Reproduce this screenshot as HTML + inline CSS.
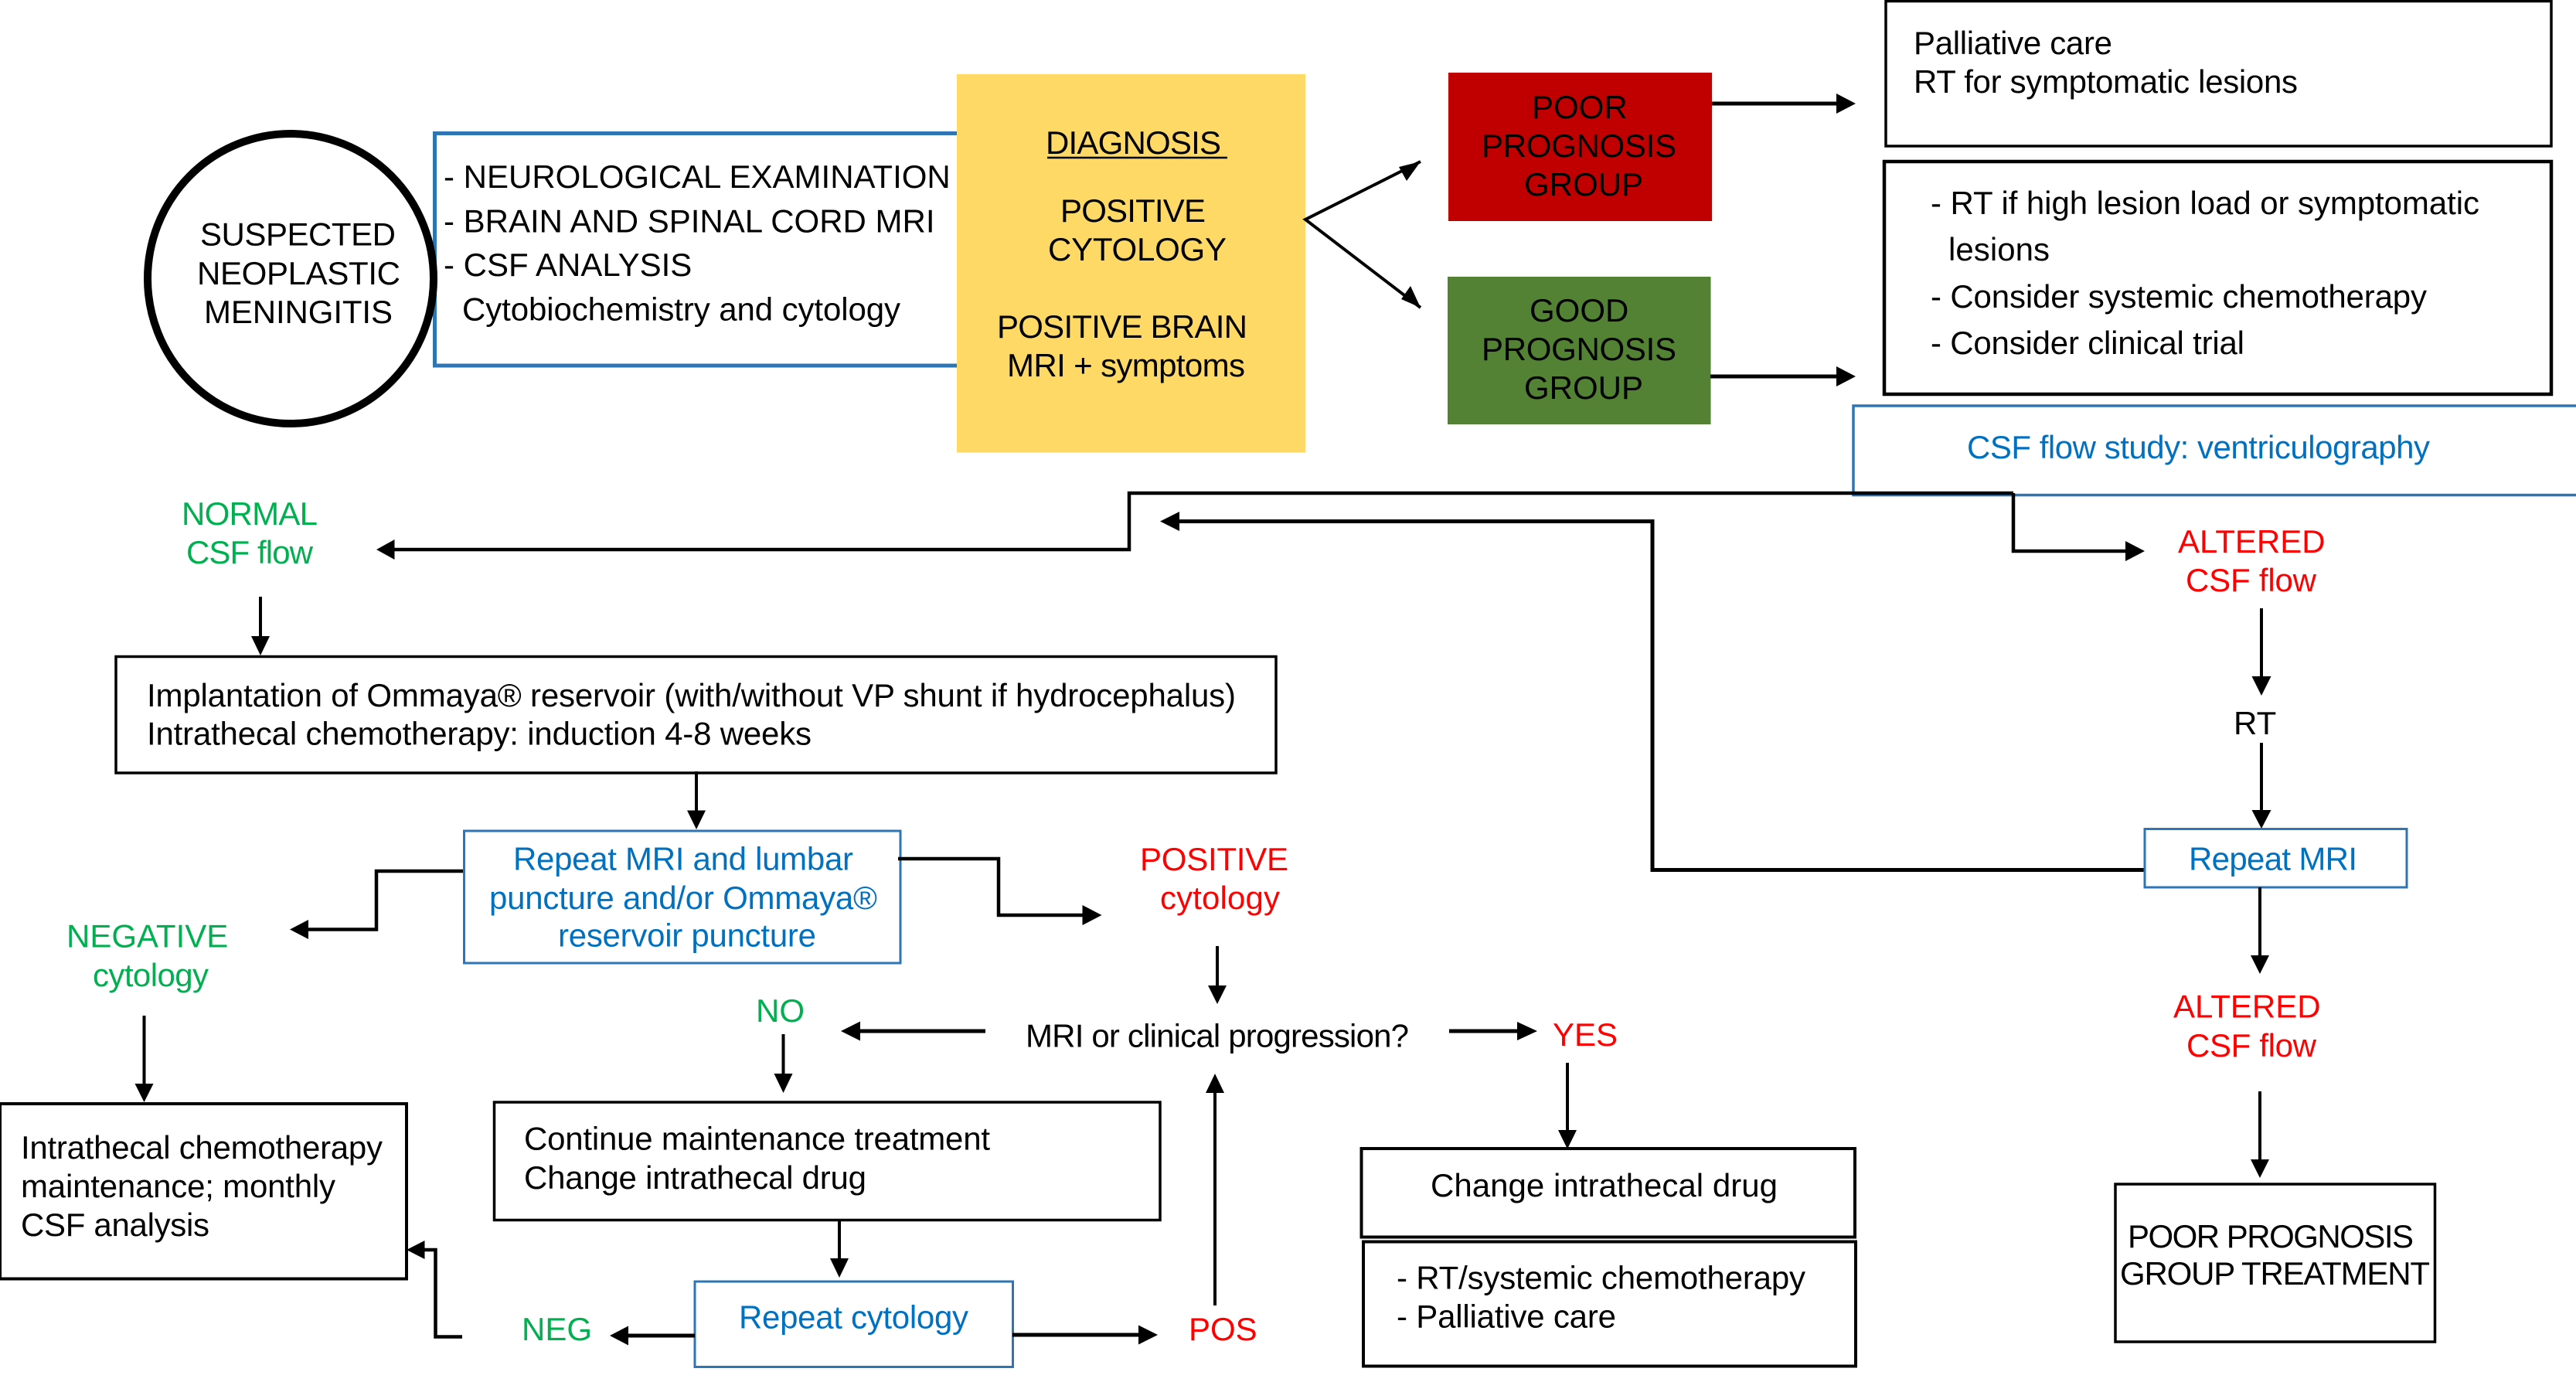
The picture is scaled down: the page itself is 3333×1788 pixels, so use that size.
<!DOCTYPE html>
<html>
<head>
<meta charset="utf-8">
<style>
html,body{margin:0;padding:0;background:#fff;width:3333px;height:1788px;overflow:hidden}
svg{display:block}
text{font-family:"Liberation Sans",Arial,sans-serif;font-size:42px;fill:#000}
.g{fill:#00B050}.r{fill:#FF0000}.b{fill:#0070C0}
.k{fill:none;stroke:#000;stroke-width:4.5}
.t{fill:none;stroke:#000;stroke-width:4}
.bx{fill:#fff;stroke:#000;stroke-width:3.5}
.bl{fill:#fff;stroke:#2E75B6;stroke-width:3.5}
</style>
</head>
<body>
<svg width="3333" height="1788" viewBox="0 0 3333 1788" xmlns="http://www.w3.org/2000/svg">
<rect width="3333" height="1788" fill="#fff"/>

<!-- top row shapes -->
<path d="M1239 172.500H562.500V473H1239" fill="#fff" stroke="#2E75B6" stroke-width="5"/>
<ellipse cx="376" cy="360.500" rx="185" ry="187.500" fill="#fff" stroke="#000" stroke-width="10"/>
<rect x="1238" y="96" width="451" height="489.500" fill="#FFD966"/>
<rect x="1874" y="94" width="341" height="192" fill="#C00000"/>
<rect x="1873" y="358" width="340.500" height="191" fill="#548235"/>
<rect class="bx" x="2440" y="1.500" width="861" height="187.500"/>
<rect class="bx" style="stroke-width:4.500" x="2438" y="209" width="863" height="301"/>
<rect class="bl" x="2398" y="525" width="945" height="115.500"/>

<!-- top row text -->
<text x="259" y="317.500" textLength="253">SUSPECTED</text>
<text x="255" y="368" textLength="263">NEOPLASTIC</text>
<text x="264" y="418" textLength="244">MENINGITIS</text>
<text x="574" y="243">- NEUROLOGICAL EXAMINATION</text>
<text x="574" y="300.500">- BRAIN AND SPINAL CORD MRI</text>
<text x="574" y="357">- CSF ANALYSIS</text>
<text x="598" y="414.500" textLength="567">Cytobiochemistry and cytology</text>
<text x="1353" y="199" textLength="227">DIAGNOSIS</text>
<path d="M1355 204H1588" stroke="#000" stroke-width="2.500"/>
<text x="1372" y="287" textLength="188">POSITIVE</text>
<text x="1356" y="337" textLength="231">CYTOLOGY</text>
<text x="1290" y="437" textLength="324">POSITIVE BRAIN</text>
<text x="1303" y="487" textLength="308">MRI + symptoms</text>
<text x="1982" y="153">POOR</text>
<text x="1917" y="203" textLength="252">PROGNOSIS</text>
<text x="1972" y="253">GROUP</text>
<text x="1979" y="416">GOOD</text>
<text x="1917" y="466" textLength="252">PROGNOSIS</text>
<text x="1972" y="516">GROUP</text>
<text x="2476" y="70" textLength="257">Palliative care</text>
<text x="2476" y="120" textLength="497">RT for symptomatic lesions</text>
<text x="2498" y="277" textLength="710">- RT if high lesion load or symptomatic</text>
<text x="2521" y="337" textLength="131">lesions</text>
<text x="2498" y="398" textLength="642">- Consider systemic chemotherapy</text>
<text x="2498" y="458" textLength="406">- Consider clinical trial</text>
<text class="b" x="2545" y="593" textLength="599">CSF flow study: ventriculography</text>

<!-- top arrows -->
<path class="k" d="M1838 209L1689 284L1838 398" style="stroke-width:4"/>
<polygon points="1838,209 1810,216 1820,234"/>
<polygon points="1838,398 1813,387 1825,370"/>
<path class="k" d="M2215 134H2378" style="stroke-width:5"/><polygon points="2401,134 2376,121 2376,147"/>
<path class="k" d="M2213 487H2378" style="stroke-width:5"/><polygon points="2401,487 2376,474 2376,500"/>

<!-- CSF flow split -->
<path class="k" d="M2605 638H1461V711H508"/>
<polygon points="487,711 510.500,698 510.500,724"/>
<path class="k" d="M2605 638V713H2752"/>
<polygon points="2775,713 2750,700 2750,726"/>
<path class="k" d="M2775 1125.500H2138V674.500H1524" style="stroke-width:5"/>
<polygon points="1501,674.500 1526,662 1526,687"/>

<!-- left column -->
<text class="g" x="235" y="679" textLength="176">NORMAL</text>
<text class="g" x="241" y="729" textLength="164">CSF flow</text>
<path class="t" d="M337 772V826"/><polygon points="337,848 325,823 349,823"/>
<rect class="bx" x="150" y="849.500" width="1501" height="150.500"/>
<text x="190" y="914" textLength="1409">Implantation of Ommaya® reservoir (with/without VP shunt if hydrocephalus)</text>
<text x="190" y="963.500" textLength="860">Intrathecal chemotherapy: induction 4-8 weeks</text>
<path class="t" d="M901 998V1052"/><polygon points="901,1073 889,1048.500 913,1048.500"/>
<rect class="bl" style="stroke-width:3" x="600.500" y="1075" width="564.500" height="171"/>
<text class="b" x="664" y="1125.500" textLength="440">Repeat MRI and lumbar</text>
<text class="b" x="633" y="1176" textLength="502">puncture and/or Ommaya®</text>
<text class="b" x="722" y="1224.500" textLength="334">reservoir puncture</text>
<path class="k" d="M599 1127H487V1202.500H397"/><polygon points="375,1202.500 399,1190 399,1215"/>
<path class="k" d="M1162 1111H1292V1184H1403"/><polygon points="1425.500,1184 1400.500,1171 1400.500,1197"/>
<text class="r" x="1475" y="1126" textLength="192">POSITIVE</text>
<text class="r" x="1501" y="1176" textLength="155">cytology</text>
<text class="g" x="86" y="1225.500">NEGATIVE</text>
<text class="g" x="120" y="1276" textLength="150">cytology</text>
<path class="t" d="M186.500 1314V1406"/><polygon points="186.500,1426 174.500,1402 198.500,1402"/>
<rect class="bx" style="stroke-width:4" x="0" y="1428" width="526" height="226.500"/>
<text x="27" y="1499" textLength="468">Intrathecal chemotherapy</text>
<text x="27" y="1549" textLength="407">maintenance; monthly</text>
<text x="27" y="1599" textLength="244">CSF analysis</text>

<!-- middle -->
<path class="t" d="M1575 1224V1280"/><polygon points="1575,1299 1563,1275 1587,1275"/>
<text x="1327" y="1354.500" textLength="496">MRI or clinical progression?</text>
<path class="k" d="M1275 1334H1110" style="stroke-width:5"/><polygon points="1088,1334 1113,1321.500 1113,1346.500"/>
<text class="g" x="978" y="1322">NO</text>
<path class="t" d="M1013.500 1338V1394"/><polygon points="1013.500,1414 1001.500,1389 1025.500,1389"/>
<rect class="bx" x="639.500" y="1426" width="861.500" height="152.500"/>
<text x="678" y="1487.500" textLength="603">Continue maintenance treatment</text>
<text x="678" y="1538" textLength="443">Change intrathecal drug</text>
<path class="t" d="M1086 1579V1632"/><polygon points="1086,1653 1074,1628 1098,1628"/>
<rect class="bl" style="stroke-width:3" x="899" y="1658" width="411.500" height="110.500"/>
<text class="b" x="956" y="1718.500" textLength="297">Repeat cytology</text>
<path class="k" d="M899 1728H810" style="stroke-width:5"/><polygon points="789,1728 813,1715.500 813,1740.500"/>
<text class="g" x="675" y="1734">NEG</text>
<path class="k" d="M598 1729.500H563.500V1617H548" style="stroke-width:4.500"/><polygon points="526,1617 549.500,1605 549.500,1629"/>
<path class="k" d="M1310 1727H1476" style="stroke-width:5"/><polygon points="1498,1727 1473,1714.500 1473,1739.500"/>
<text class="r" x="1538" y="1734">POS</text>
<path class="t" d="M1572 1689V1410"/><polygon points="1572,1389 1560,1414 1584,1414"/>
<path class="k" d="M1875 1334H1966" style="stroke-width:5"/><polygon points="1989,1334 1963,1322 1963,1346"/>
<text class="r" x="2009" y="1353">YES</text>
<path class="t" d="M2028 1375V1466"/><polygon points="2028,1486.500 2016,1462 2040,1462"/>
<rect class="bx" style="stroke-width:4" x="1761.500" y="1486" width="638.500" height="114.500"/>
<text x="1851" y="1548" textLength="449">Change intrathecal drug</text>
<rect class="bx" style="stroke-width:4" x="1764" y="1606.500" width="637" height="161"/>
<text x="1807" y="1667.500" textLength="529">- RT/systemic chemotherapy</text>
<text x="1807" y="1717.500" textLength="284">- Palliative care</text>

<!-- right column -->
<text class="r" x="2818" y="715">ALTERED</text>
<text class="r" x="2828" y="765" textLength="169">CSF flow</text>
<path class="t" d="M2926 787V880"/><polygon points="2926,900 2913.500,875 2938.500,875"/>
<text x="2890" y="950">RT</text>
<path class="t" d="M2926 961V1052"/><polygon points="2926,1072 2913.500,1048 2938.500,1048"/>
<rect class="bl" style="stroke-width:3" x="2775" y="1072.500" width="339" height="75.500"/>
<text class="b" x="2832" y="1125.500" textLength="218">Repeat MRI</text>
<path class="t" d="M2924 1148V1240"/><polygon points="2924,1260 2912,1236 2936,1236"/>
<text class="r" x="2812" y="1316.500">ALTERED</text>
<text class="r" x="2829" y="1367" textLength="168">CSF flow</text>
<path class="t" d="M2924 1412V1504"/><polygon points="2924,1524 2912,1500 2936,1500"/>
<rect class="bx" x="2737" y="1532" width="413.500" height="204"/>
<text x="2753" y="1614" textLength="370">POOR PROGNOSIS</text>
<text x="2743" y="1662" textLength="401">GROUP TREATMENT</text>
</svg>
</body>
</html>
